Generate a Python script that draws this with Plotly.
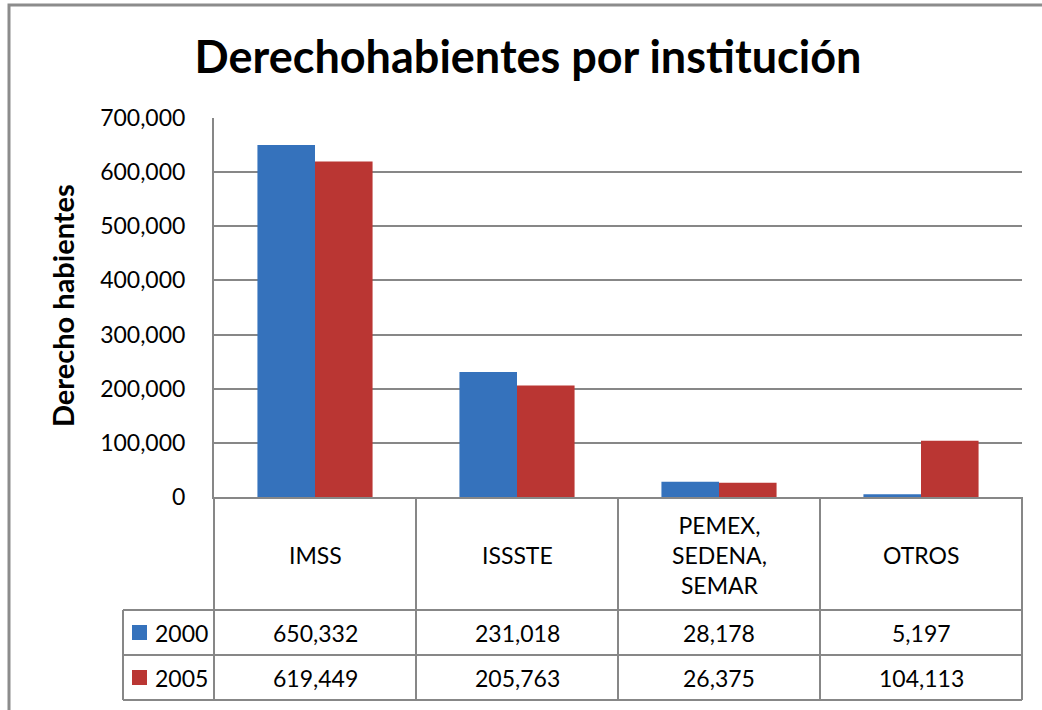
import plotly.graph_objects as go

# ---- data ----
categories = ["IMSS", "ISSSTE", "PEMEX,<br>SEDENA,<br>SEMAR", "OTROS"]
series_names = ["2000", "2005"]
values_2000 = [650332, 231018, 28178, 5197]
values_2005 = [619449, 205763, 26375, 104113]
y_ticks = [0, 100000, 200000, 300000, 400000, 500000, 600000, 700000]

title_text = "Derechohabientes por institución"
y_title_text = "Derecho habientes"

# ---- style ----
FONT = "Lato"
W, H = 1042, 710
L, R, T, B = 214, 1022, 118, 497
GRID = "#878787"
colors = ["#3572BC", "#BA3633"]


def px(x):
    return (x - L) / (R - L)


def py(y):
    return (B - y) / (B - T)


fig = go.Figure()
for name, vals, col in zip(series_names, [values_2000, values_2005], colors):
    fig.add_trace(go.Bar(
        x=list(range(len(categories))), y=vals, name=name,
        marker=dict(color=col, line=dict(width=0)),
        showlegend=False,
    ))

shapes = []
# outer chart border
shapes.append(dict(type="rect", xref="paper", yref="paper",
                   x0=px(9), x1=px(1050), y0=py(5), y1=py(720),
                   line=dict(color="#8C8C8C", width=3), fillcolor="rgba(0,0,0,0)", layer="below"))
line_style = dict(color=GRID, width=2)
# table horizontal lines
for yy in [610, 655, 700]:
    shapes.append(dict(type="line", xref="paper", yref="paper",
                       x0=px(123), x1=px(R), y0=py(yy), y1=py(yy), line=line_style))
# table vertical lines
n = len(categories)
for i in range(n + 1):
    xx = L + (R - L) * i / n
    shapes.append(dict(type="line", xref="paper", yref="paper",
                       x0=px(xx), x1=px(xx), y0=py(B), y1=py(700), line=line_style))
shapes.append(dict(type="line", xref="paper", yref="paper",
                   x0=px(123), x1=px(123), y0=py(610), y1=py(700), line=line_style))
# legend keys in table
for (yc, col) in zip([632.5, 677.5], colors):
    shapes.append(dict(type="rect", xref="paper", yref="paper",
                       x0=px(132), x1=px(147), y0=py(yc - 7.5), y1=py(yc + 7.5),
                       line=dict(width=0), fillcolor=col))

annotations = []
txt_font = dict(family=FONT, size=23, color="#000000")
for i, c in enumerate(categories):
    annotations.append(dict(x=i, xref="x", y=py(555), yref="paper", text=c,
                            showarrow=False, font=txt_font, align="center",
                            xanchor="center", yanchor="middle"))
for row, (name, vals) in enumerate(zip(series_names, [values_2000, values_2005])):
    yc = [632.5, 677.5][row]
    annotations.append(dict(x=px(153), xref="paper", y=py(yc), yref="paper", text=name,
                            showarrow=False, font=txt_font, xanchor="left", yanchor="middle"))
    for i, v in enumerate(vals):
        annotations.append(dict(x=i, xref="x", y=py(yc), yref="paper", text=f"{v:,}",
                                showarrow=False, font=txt_font,
                                xanchor="center", yanchor="middle"))
annotations.append(dict(x=px(62), xref="paper", y=py(306), yref="paper", text=f"<b>{y_title_text}</b>",
                        textangle=-90, showarrow=False,
                        font=dict(family=FONT, size=29, color="#000000"),
                        xanchor="center", yanchor="middle"))

fig.update_layout(
    width=W, height=H,
    margin=dict(l=L, r=W - R, t=T, b=H - B, pad=0),
    paper_bgcolor="white", plot_bgcolor="white",
    title=dict(text=f"<b>{title_text}</b>", x=528 / W, xanchor="center",
               y=1 - 57 / H, yanchor="middle", font=dict(family=FONT, size=45, color="#000000")),
    barmode="group", bargap=0.43, bargroupgap=0,
    shapes=shapes, annotations=annotations,
    font=dict(family=FONT, color="#000000"),
)
fig.update_xaxes(range=[-0.5, n - 0.5], showticklabels=False, showgrid=False,
                 showline=True, linecolor=GRID, linewidth=2, zeroline=False, fixedrange=True)
fig.update_yaxes(range=[0, 700000], tickvals=y_ticks, tickformat=",",
                 showgrid=True, gridcolor=GRID, gridwidth=2,
                 showline=True, linecolor=GRID, linewidth=2, zeroline=False,
                 tickfont=dict(family=FONT, size=23, color="#000000"),
                 ticklabelstandoff=22, ticks="", fixedrange=True)

fig.write_html("out.html", config={"displayModeBar": False},
               post_script="document.body.style.margin='0px';document.body.style.overflow='hidden';")
